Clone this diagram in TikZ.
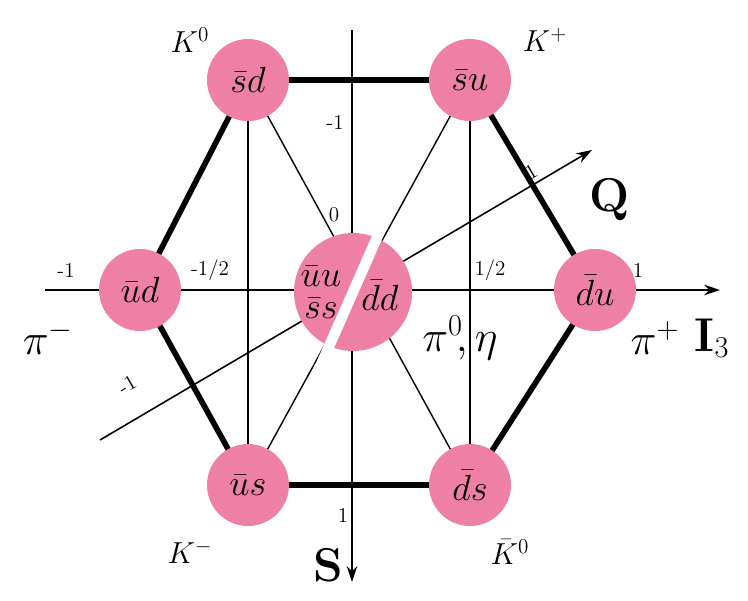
\documentclass[tikz,border=0pt]{standalone}
\usepackage{amsmath}
\usetikzlibrary{arrows.meta, calc}
\definecolor{quarkpink}{RGB}{238,128,166}
\tikzset{
  meson/.style={circle, fill=quarkpink, minimum size=82*0.02cm, inner sep=0pt, font=\fontsize{22}{24}\selectfont},
  hexedge/.style={line width=3.2pt},
  thinline/.style={line width=0.8pt},
  axisline/.style={line width=0.9pt, -{Stealth[length=9pt,width=6pt]}},
  tick/.style={font=\fontsize{12}{14}\selectfont},
  mname/.style={font=\fontsize{18}{20}\selectfont},
  pname/.style={font=\fontsize{27}{30}\selectfont},
}
\begin{document}
\begin{tikzpicture}[x=0.02cm,y=-0.02cm]
    \useasboundingbox (0,0) rectangle (748,600);
    % meson positions
    \coordinate (psd) at (248,80);
    \coordinate (psu) at (470,80);
    \coordinate (pud) at (140,290);
    \coordinate (pdu) at (595,290);
    \coordinate (pus) at (248,485);
    \coordinate (pds) at (470,485);
    \coordinate (pc) at (353,292);

    % grid and axes
    \draw[thinline] (psd)--(pus);
    \draw[thinline] (psu)--(pds);
    \draw[thinline] (psd)--(pds);
    \draw[thinline] (psu)--(pus);
    \coordinate (itail) at (45,290);
    \coordinate (ihead) at (720,290);
    \draw[axisline] (itail)--(ihead);
    \coordinate (stail) at (352,30);
    \coordinate (shead) at (352,582);
    \draw[axisline] (stail)--(shead);
    \coordinate (qtail) at (100,440);
    \coordinate (qhead) at (592,150);
    \draw[axisline] (qtail)--(qhead);

    % hexagon
    \draw[hexedge] (psd)--(psu)--(pdu)--(pds)--(pus)--(pud)--cycle;

    % mesons
    \node[meson] (sd) at (psd) {$\bar sd$};
    \node[meson] (su) at (psu) {$\bar su$};
    \node[meson] (ud) at (pud) {$\bar ud$};
    \node[meson] (du) at (pdu) {$\bar du$};
    \node[meson] (us) at (pus) {$\bar us$};
    \node[meson] (ds) at (pds) {$\bar ds$};
    \node[circle, fill=quarkpink, minimum size=118*0.02cm] (cen) at (pc) {};
    \draw[white, line width=6pt] ($(pc)+(52,-118)$)--($(pc)+(-52,118)$);
    \node[font=\fontsize{22}{22}\selectfont, align=center, inner sep=0pt] at (321,292) {$\bar uu$\\[-4pt]$\bar ss$};
    \node[font=\fontsize{22}{24}\selectfont, inner sep=0pt] at (380,295) {$\bar dd$};

    % ticks
    \node[tick] at (335,122) {-1};
    \node[tick] at (334,215) {0};
    \node[tick] at (343,515) {1};
    \node[tick] at (66,270) {-1};
    \node[tick] at (638,270) {1};
    \node[tick] at (210,270) {-1/2};
    \node[tick] at (490,270) {1/2};
    \node[tick, rotate=30] at (531,172) {1};
    \node[tick, rotate=30] at (127,385) {-1};

    % particle names
    \node[mname] at (190,40) {$K^0$};
    \node[mname] at (545,40) {$K^+$};
    \node[mname] at (190,552) {$K^-$};
    \node[mname] at (510,552) {$\bar K^0$};
    \node[pname] at (48,338) {$\pi^-$};
    \node[pname] at (655,338) {$\pi^+$};
    \node[pname] at (460,338) {$\pi^0\!,\eta$};
    \node[font=\fontsize{27}{30}\selectfont\bfseries] at (610,200) {Q};
    \node[font=\fontsize{27}{30}\selectfont\bfseries] at (712,338) {I$_3$};
    \node[font=\fontsize{27}{30}\selectfont\bfseries] at (328,565) {S};
\end{tikzpicture}
\end{document}
